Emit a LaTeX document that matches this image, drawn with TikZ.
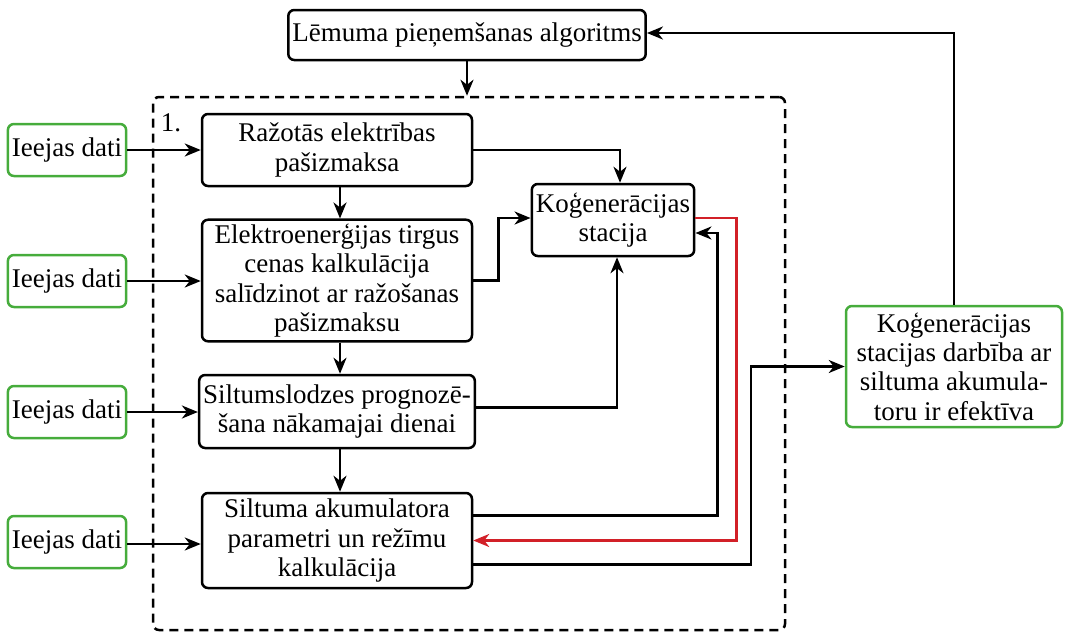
\documentclass[tikz,border=0pt]{standalone}
\usepackage{fontspec}
\setmainfont{Liberation Serif}
\usetikzlibrary{arrows.meta,calc}
\definecolor{boxgreen}{RGB}{70,172,60}
\definecolor{linered}{RGB}{210,32,40}
\begin{document}
\begin{tikzpicture}[x=0.5pt,y=-0.5pt,
  font=\fontsize{13.5pt}{14.7pt}\selectfont,
  every node/.style={inner sep=2pt},
  blk/.style={draw,line width=1.25pt,rounded corners=3pt,align=center},
  gbox/.style={draw=boxgreen,line width=1.25pt,rounded corners=3pt,align=center},
  arr/.style={line width=1.25pt,-{Stealth[length=8pt,width=6.5pt,inset=2.5pt]}},
  redarr/.style={arr,draw=linered,-{Stealth[length=8pt,width=6.5pt,inset=2.5pt,linered]}}]
\useasboundingbox (0,0) rectangle (1066,632);
\node[draw,dash pattern=on 4.5pt off 3pt,line width=1.25pt,rounded corners=3pt,minimum width=316pt,minimum height=266.5pt] (frame) at (469,363.5) {};
\node (lbl) at (171,123) {1.};
\node[blk,minimum width=175pt,minimum height=25pt] (T) at (467,35) {Lēmuma pieņemšanas algoritms};
\node[gbox,minimum width=59pt,minimum height=26pt] (G1) at (67,150) {Ieejas dati};
\node[gbox,minimum width=59pt,minimum height=26pt] (G2) at (67,281) {Ieejas dati};
\node[gbox,minimum width=59pt,minimum height=26pt] (G3) at (67,412) {Ieejas dati};
\node[gbox,minimum width=59pt,minimum height=26pt] (G4) at (67,542) {Ieejas dati};
\node[blk,minimum width=135pt,minimum height=36pt] (A) at (337,150) {Ražotās elektrības\\pašizmaksa};
\node[blk,minimum width=135pt,minimum height=59.5pt] (B) at (337,280.5) {Elektroenerģijas tirgus\\cenas kalkulācija\\salīdzinot ar ražošanas\\pašizmaksu};
\node[blk,minimum width=135pt,minimum height=36.5pt] (C) at (337,411.5) {Siltumslodzes prognozē-\\šana nākamajai dienai};
\node[blk,minimum width=135pt,minimum height=47.5pt] (D) at (337,540.5) {Siltuma akumulatora\\parametri un režīmu\\kalkulācija};
\node[blk,minimum width=78pt,minimum height=36pt] (K) at (613,220) {Koģenerācijas\\stacija};
\node[gbox,minimum width=108pt,minimum height=60.5pt] (R) at (954,366.5) {Koģenerācijas\\stacijas darbība ar\\siltuma akumula-\\toru ir efektīva};
% inputs
\draw[arr] (G1.east) -- (G1.east -| A.west);
\draw[arr] (G2.east) -- (G2.east -| B.west);
\draw[arr] (G3.east) -- (G3.east -| C.west);
\draw[arr] ($(G4.east)+(0,2)$) -- ($(G4.east -| D.west)+(0,2)$);
% vertical chain
\draw[arr] ($(A.south)+(3,0)$) -- ($(B.north)+(3,0)$);
\draw[arr] ($(B.south)+(3,0)$) -- ($(C.north)+(3,0)$);
\draw[arr] ($(C.south)+(3,0)$) -- ($(D.north)+(3,0)$);
% to station
\draw[arr] (A.east) -| ($(K.north)+(7,0)$);
\draw[arr] (B.east) -- ++(25,0) |- ($(K.west)+(0,-2)$);
\draw[arr] ($(C.east)+(0,-4)$) -| ($(K.south)+(4,0)$);
\draw[arr] ($(D.east)+(0,-25)$) -| ($(K.east)+(22,13)$) -- ($(K.east)+(0,13)$);
\draw[redarr] ($(K.east)+(0,-2)$) -| ($(D.east)+(263,0)$) -- (D.east);
\draw[arr] ($(D.east)+(0,24)$) -| ($(R.west)+(-94,0)$) -- (R.west);
\draw[arr] (R.north) |- ($(T.east)+(0,-2)$);
\draw[arr] (T.south) -- (T.south |- frame.north);
\end{tikzpicture}
\end{document}
